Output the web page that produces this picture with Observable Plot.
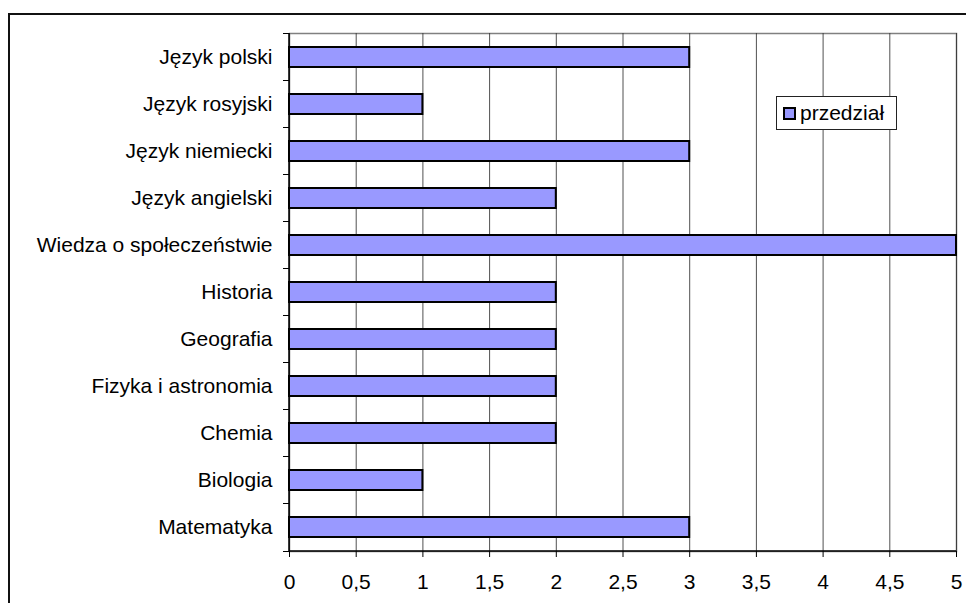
<!DOCTYPE html>
<html>
<head>
<meta charset="utf-8">
<script src="https://cdn.jsdelivr.net/npm/d3@7"></script>
<script src="https://cdn.jsdelivr.net/npm/@observablehq/plot@0.6"></script>
<style>
  html, body { margin: 0; padding: 0; background: #fff; overflow: hidden; }
  #wrap { position: relative; width: 966px; height: 603px; overflow: hidden; font-family: "Liberation Sans", Arial, sans-serif; }
  #wrap svg { position: absolute; left: 0; top: 0; }
  #wrap svg text { font-size: 21px; fill: #000; }
  #frame { position: absolute; left: 8px; top: 13px; width: 1100px; height: 1100px; border: 2px solid #111; box-sizing: border-box; pointer-events: none; }
  #legend { position: absolute; left: 776px; top: 96px; width: 121px; height: 34px; box-sizing: border-box; border: 1px solid #222; background: #fff; display: flex; align-items: center; font-size: 21px; color: #000; white-space: nowrap; }
  #legend .sw { flex: none; width: 13px; height: 13px; box-sizing: border-box; border: 2px solid #000; background: #9999ff; margin-left: 6px; margin-right: 4px; }
</style>
</head>
<body>
<div id="wrap">
  <div id="frame"></div>
</div>
<script>
const categories = [
  "Język polski",
  "Język rosyjski",
  "Język niemiecki",
  "Język angielski",
  "Wiedza o społeczeństwie",
  "Historia",
  "Geografia",
  "Fizyka i astronomia",
  "Chemia",
  "Biologia",
  "Matematyka"
];
const values = [3, 1, 3, 2, 5, 2, 2, 2, 2, 1, 3];
const xTicks = [0, 0.5, 1, 1.5, 2, 2.5, 3, 3.5, 4, 4.5, 5];
const seriesName = "przedział";

const data = categories.map((c, i) => ({ subject: c, value: values[i] }));

// Left/bottom axis lines and category-boundary ticks, derived from the plot's scales and dimensions
function axisLinesAndBoundaries(index, scales, values, dims) {
  const g = d3.create("svg:g");
  const n = categories.length;
  const y = scales.y;
  const bw = y.bandwidth ? y.bandwidth() : 0;
  const top = dims.marginTop;
  const bottom = dims.height - dims.marginBottom;
  const step = (bottom - top) / n;
  const x0 = scales.x(0);
  const x1 = scales.x(5);
  const ys = categories.map(c => y(c) + bw / 2 - step / 2);
  ys.push(y(categories[n - 1]) + bw / 2 + step / 2);
  for (const yy of ys) {
    g.append("line")
      .attr("x1", x0 - 6).attr("x2", x0)
      .attr("y1", Math.round(yy) + 0.5).attr("y2", Math.round(yy) + 0.5)
      .attr("stroke", "#000").attr("stroke-width", 1);
  }
  g.append("line")
    .attr("x1", x0).attr("x2", x1)
    .attr("y1", bottom).attr("y2", bottom)
    .attr("stroke", "#000").attr("stroke-width", 1.5);
  g.append("line")
    .attr("x1", x0).attr("x2", x0)
    .attr("y1", top).attr("y2", bottom)
    .attr("stroke", "#000").attr("stroke-width", 1.5);
  return g.node();
}

const chart = Plot.plot({
  width: 966,
  height: 603,
  marginLeft: 289,
  marginTop: 33,
  marginRight: 10,
  marginBottom: 52,
  style: { fontFamily: "'Liberation Sans', Arial, sans-serif", fontSize: "21px", color: "#000", background: "transparent" },
  x: { domain: [0, 5], ticks: xTicks, label: null },
  y: { domain: categories, paddingInner: 0.58, paddingOuter: 0.29, label: null },
  marks: [
    Plot.frame({ stroke: "#808080", strokeWidth: 1.5 }),
    Plot.gridX(xTicks, { stroke: "#333", strokeOpacity: 0.85, strokeWidth: 1 }),
    Plot.barX(data, { x: "value", y: "subject", fill: "#9999ff", stroke: "#000", strokeWidth: 2 }),
    Plot.axisX({ ticks: xTicks, tickSize: 6, tickPadding: 17, tickFormat: d => String(d).replace(".", ","), stroke: "#000", fontSize: 21 }),
    Plot.axisY({ tickSize: 0, tickPadding: 17, fontSize: 21 }),
    axisLinesAndBoundaries
  ]
});

const wrap = document.getElementById("wrap");
wrap.insertBefore(chart, wrap.firstChild);

const legend = document.createElement("div");
legend.id = "legend";
legend.innerHTML = '<div class="sw"></div><span></span>';
legend.querySelector("span").textContent = seriesName;
wrap.appendChild(legend);
</script>
</body>
</html>
